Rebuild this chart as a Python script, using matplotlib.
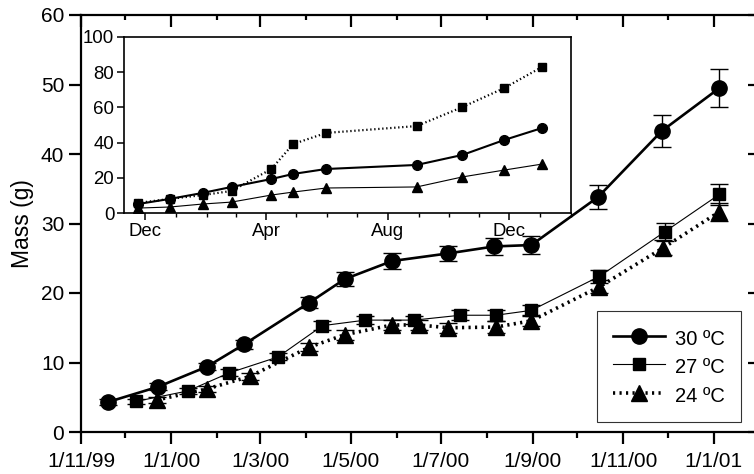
import numpy as np
import matplotlib
matplotlib.use("Agg")
import matplotlib.pyplot as plt
import matplotlib.dates as mdates
from matplotlib.ticker import FuncFormatter, NullFormatter

plt.rcParams["font.family"] = ["Liberation Sans", "DejaVu Sans"]

# main data: mass (g) vs date, with error bars
dates_30 = ["1999-11-19", "1999-12-23", "2000-01-25", "2000-02-19", "2000-04-03", "2000-04-27",
            "2000-05-29", "2000-07-06", "2000-08-06", "2000-08-31", "2000-10-15", "2000-11-27", "2001-01-05"]
mass_30 = [4.3, 6.5, 9.4, 12.6, 18.6, 22.0, 24.6, 25.7, 26.7, 26.9, 33.8, 43.3, 49.5]
err_30 = [0.4, 0.5, 0.5, 0.6, 0.8, 1.0, 1.1, 1.1, 1.2, 1.3, 1.7, 2.3, 2.8]

dates_27 = ["1999-12-08", "2000-01-12", "2000-02-09", "2000-03-13", "2000-04-12", "2000-05-11",
            "2000-06-13", "2000-07-14", "2000-08-07", "2000-08-31", "2000-10-16", "2000-11-29", "2001-01-05"]
mass_27 = [4.4, 5.9, 8.5, 10.8, 15.3, 16.1, 16.1, 16.8, 16.8, 17.5, 22.4, 28.8, 34.2]
err_27 = [0.4, 0.4, 0.5, 0.5, 0.6, 0.6, 0.6, 0.7, 0.8, 0.8, 0.9, 1.3, 1.5]

dates_24 = ["1999-12-22", "2000-01-25", "2000-02-23", "2000-04-03", "2000-04-27", "2000-05-29",
            "2000-06-16", "2000-07-06", "2000-08-07", "2000-08-31", "2000-10-16", "2000-11-28", "2001-01-05"]
mass_24 = [4.6, 6.2, 8.0, 12.2, 14.0, 15.4, 15.4, 15.0, 15.1, 16.0, 20.9, 26.5, 31.7]
err_24 = [0.4, 0.4, 0.5, 0.6, 0.7, 0.7, 0.7, 0.7, 0.8, 0.8, 0.9, 1.1, 1.3]

# inset data
inset_dates = ["1999-11-24", "1999-12-26", "2000-01-28", "2000-02-26", "2000-04-06", "2000-04-28",
               "2000-05-31", "2000-08-30", "2000-10-15", "2000-11-26", "2001-01-03"]
inset_circ = [5.1, 8.0, 11.4, 14.8, 19.3, 22.2, 25.0, 27.3, 33.0, 41.5, 48.3]
inset_sq = [5.7, 8.0, 10.2, 12.5, 25.0, 39.2, 45.5, 49.4, 60.2, 71.0, 83.0]
inset_tri = [2.8, 3.4, 5.1, 6.2, 10.2, 11.9, 14.2, 14.8, 20.5, 24.4, 27.8]

labels = ["30 \u00baC", "27 \u00baC", "24 \u00baC"]

d30 = np.array(dates_30, dtype="datetime64[D]")
d27 = np.array(dates_27, dtype="datetime64[D]")
d24 = np.array(dates_24, dtype="datetime64[D]")
di = np.array(inset_dates, dtype="datetime64[D]")

fig = plt.figure(figsize=(7.54, 4.74), dpi=100)
ax = fig.add_axes([81/754, 42/474, 677/754, 417/474])

dotted = (0, (0.6, 1.2))
for d, m, e in [(d30, mass_30, err_30), (d27, mass_27, err_27), (d24, mass_24, err_24)]:
    ax.errorbar(d, m, yerr=e, fmt="none", ecolor="black", elinewidth=1.0, capsize=6.5, capthick=1.0, zorder=2)

l30, = ax.plot(d30, mass_30, color="black", lw=1.9, marker="o", ms=11, zorder=3)
l27, = ax.plot(d27, mass_27, color="black", lw=0.8, marker="s", ms=8.5, zorder=3)
l24, = ax.plot(d24, mass_24, color="black", lw=2.6, ls=dotted, marker="^", ms=11, zorder=3)

ax.set_ylim(0, 60)
ax.set_yticks(np.arange(0, 61, 10))
xlim = (mdates.date2num(np.datetime64("1999-11-01")), mdates.date2num(np.datetime64("2001-01-31")))
ax.set_xlim(xlim)
ax.xaxis.set_major_locator(mdates.MonthLocator(bymonth=[1, 3, 5, 7, 9, 11]))
ax.xaxis.set_minor_locator(mdates.MonthLocator())


def dmy(x, pos=None):
    d = mdates.num2date(x)
    return "%d/%d/%s" % (d.day, d.month, d.strftime("%y"))


ax.xaxis.set_major_formatter(FuncFormatter(dmy))
for s in ax.spines.values():
    s.set_linewidth(1.6)
ax.spines["top"].set_visible(False)
ax.spines["right"].set_visible(False)
ax.tick_params(axis="both", which="major", labelsize=15, width=1.6)
ax.tick_params(axis="x", which="major", direction="out", length=8.5, pad=6)
ax.tick_params(axis="x", which="minor", direction="out", length=4.5, width=1.6)
ax.tick_params(axis="y", which="major", direction="out", length=9, pad=3)
ax.set_ylabel("Mass (g)", fontsize=16.5, labelpad=5)

leg = ax.legend([l30, l27, l24], labels, loc="upper left",
                bbox_to_anchor=(597/754, 1 - 311/474), bbox_transform=fig.transFigure,
                borderaxespad=0, fontsize=14.5, frameon=True, fancybox=False,
                handlelength=2.6, handleheight=1.3, labelspacing=0.32, borderpad=0.8,
                handletextpad=0.45)
leg.get_frame().set_edgecolor("black")
leg.get_frame().set_linewidth(0.8)

# top and right ticks point inwards
axt = ax.twiny()
axt.set_xlim(xlim)
axt.xaxis.set_major_locator(mdates.MonthLocator(bymonth=[1, 3, 5, 7, 9, 11]))
axt.xaxis.set_minor_locator(mdates.MonthLocator())
axt.xaxis.set_major_formatter(NullFormatter())
axt.tick_params(axis="x", which="major", direction="in", length=8.5, width=1.6)
axt.tick_params(axis="x", which="minor", direction="in", length=3.5, width=1.6)
axt.tick_params(axis="y", left=False, right=False, labelleft=False, labelright=False)
axt.spines["top"].set_linewidth(1.6)
for k in ["left", "right", "bottom"]:
    axt.spines[k].set_visible(False)

axr = ax.twinx()
axr.set_ylim(0, 60)
axr.set_yticks(np.arange(0, 61, 10))
axr.yaxis.set_major_formatter(NullFormatter())
axr.tick_params(axis="y", direction="in", length=7, width=1.6)
for k in ["left", "top", "bottom"]:
    axr.spines[k].set_visible(False)

# inset
axi = fig.add_axes([124/754, 261/474, 447/754, 176/474])
axi.plot(di, inset_circ, color="black", lw=1.5, marker="o", ms=7)
axi.plot(di, inset_sq, color="black", lw=1.6, ls=dotted, marker="s", ms=5.5)
axi.plot(di, inset_tri, color="black", lw=0.8, marker="^", ms=7)
axi.set_ylim(0, 100)
axi.set_yticks(np.arange(0, 101, 20))
axi.set_xlim(np.datetime64("1999-11-10"), np.datetime64("2001-02-01"))
axi.xaxis.set_major_locator(mdates.MonthLocator(bymonth=[4, 8, 12]))
axi.xaxis.set_minor_locator(mdates.MonthLocator())
axi.xaxis.set_major_formatter(mdates.DateFormatter("%b"))
for s in axi.spines.values():
    s.set_linewidth(1.2)
axi.tick_params(labelsize=13.4, width=1.1, length=5, pad=2)
axi.tick_params(which="minor", length=3, width=1.0)

fig.savefig("out.png", dpi=100)
